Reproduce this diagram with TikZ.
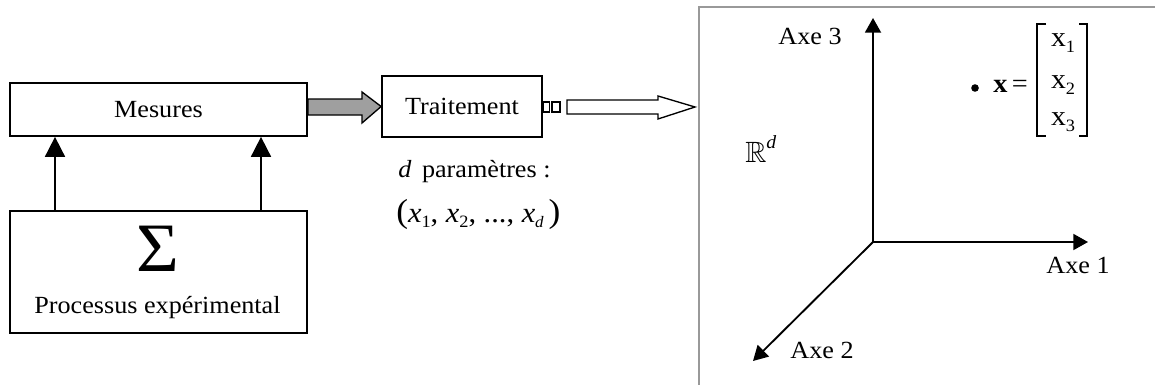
\documentclass[tikz,border=0pt]{standalone}
\usepackage{amssymb}
\usepackage{fontspec}
\setmainfont{Liberation Serif}[FakeStretch=1.06]
\usetikzlibrary{arrows.meta}
\newcommand\mysub[1]{\raisebox{-0.45ex}{\fontsize{13}{14}\selectfont #1}}
\newcommand\mysubi[1]{\raisebox{-0.45ex}{\fontsize{12}{13}\selectfont\itshape #1}}
\begin{document}
\begin{tikzpicture}[x=0.75pt,y=-0.75pt,
  txt/.style={font=\fontsize{18.5}{21}\selectfont, inner sep=0pt},
  box/.style={draw, line width=1.3pt, inner sep=0pt, font=\fontsize{18.5}{21}\selectfont},
  uparr/.style={line width=1.3pt, -{Triangle[width=15pt,length=15pt]}},
  axarr/.style={line width=1.4pt, -{Triangle[width=12pt,length=11pt]}}]
\useasboundingbox (0,0) rectangle (1155,385);
% right panel border
\draw[gray!80, line width=1.6pt] (699,385) -- (699,7) -- (1156,7);
% boxes
\node[box, minimum width=222.75pt, minimum height=39.75pt] (mes) at (158.5,109.5) {Mesures};
\node[box, minimum width=222.75pt, minimum height=91.5pt] (proc) at (158.5,272) {};
\node[txt, font=\fontsize{52}{56}\selectfont] (sig) at (157.5,249) {Σ};
\node[txt] (proctxt) at (157.5,308) {Processus expérimental};
\node[box, minimum width=120pt, minimum height=45.75pt] (trt) at (462,106.5) {Traitement};
% up arrows
\draw[uparr] (proc.north -| 55,0) -- (mes.south -| 55,0);
\draw[uparr] (proc.north -| 261,0) -- (mes.south -| 261,0);
% gray block arrow
\draw[fill=gray!75, line width=1pt] (mes.east |- 0,99) -- (362,99) -- (362,92) -- (trt.west) -- (362,123) -- (362,115) -- (mes.east |- 0,115) -- cycle;
% hollow arrow
\draw[line width=1pt] (543,102) rectangle (549.5,112);
\draw[line width=1pt] (552,102) rectangle (560,112);
\draw[line width=1pt, fill=white] (567,100) -- (658,100) -- (658,96) -- (695,107) -- (658,119) -- (658,114) -- (567,114) -- cycle;
% parameters text
\node[txt, anchor=base west] (dpar) at (398,177) {\textit{d}\, paramètres :};
\node[txt, anchor=base west, font=\fontsize{21.5}{24}\selectfont] (xs) at (396,222) {{\fontsize{25}{28}\selectfont(}\textit{x}\mysub{1}, \textit{x}\mysub{2}, ..., \textit{x}\mysubi{d}\,{\fontsize{25}{28}\selectfont)}};
% axes
\coordinate (O) at (873,242);
\coordinate (A3) at (873,18);
\coordinate (A1) at (1088,242);
\coordinate (A2) at (753,361);
\draw[axarr] (O) -- (A3);
\draw[axarr] (O) -- (A1);
\draw[axarr] (O) -- (A2);
\node[txt] (l3) at (810,36) {Axe 3};
\node[txt] (l1) at (1078,265) {Axe 1};
\node[txt] (l2) at (822,350) {Axe 2};
\node[txt, anchor=base west] (rd) at (745,162) {\fontsize{22}{24}\selectfont$\mathbb{R}$\raisebox{1.0ex}{\fontsize{14}{15}\selectfont\itshape d}};
% vector
\fill (975,88) circle (3.8);
\node[txt, anchor=base west, font=\fontsize{20}{22}\selectfont] (xeq) at (993,93) {\textbf{x}\,=};
\node[txt, font=\fontsize{21}{23}\selectfont] (x1) at (1063,43) {x\mysub{1}};
\node[txt, font=\fontsize{21}{23}\selectfont] (x2) at (1063,85) {x\mysub{2}};
\node[txt, font=\fontsize{21}{23}\selectfont] (x3) at (1063,122) {x\mysub{3}};
\draw[line width=1pt] (1046,24) -- (1037,24) -- (1037,136) -- (1046,136);
\draw[line width=1pt] (1079,24) -- (1087,24) -- (1087,136) -- (1079,136);
\end{tikzpicture}
\end{document}
